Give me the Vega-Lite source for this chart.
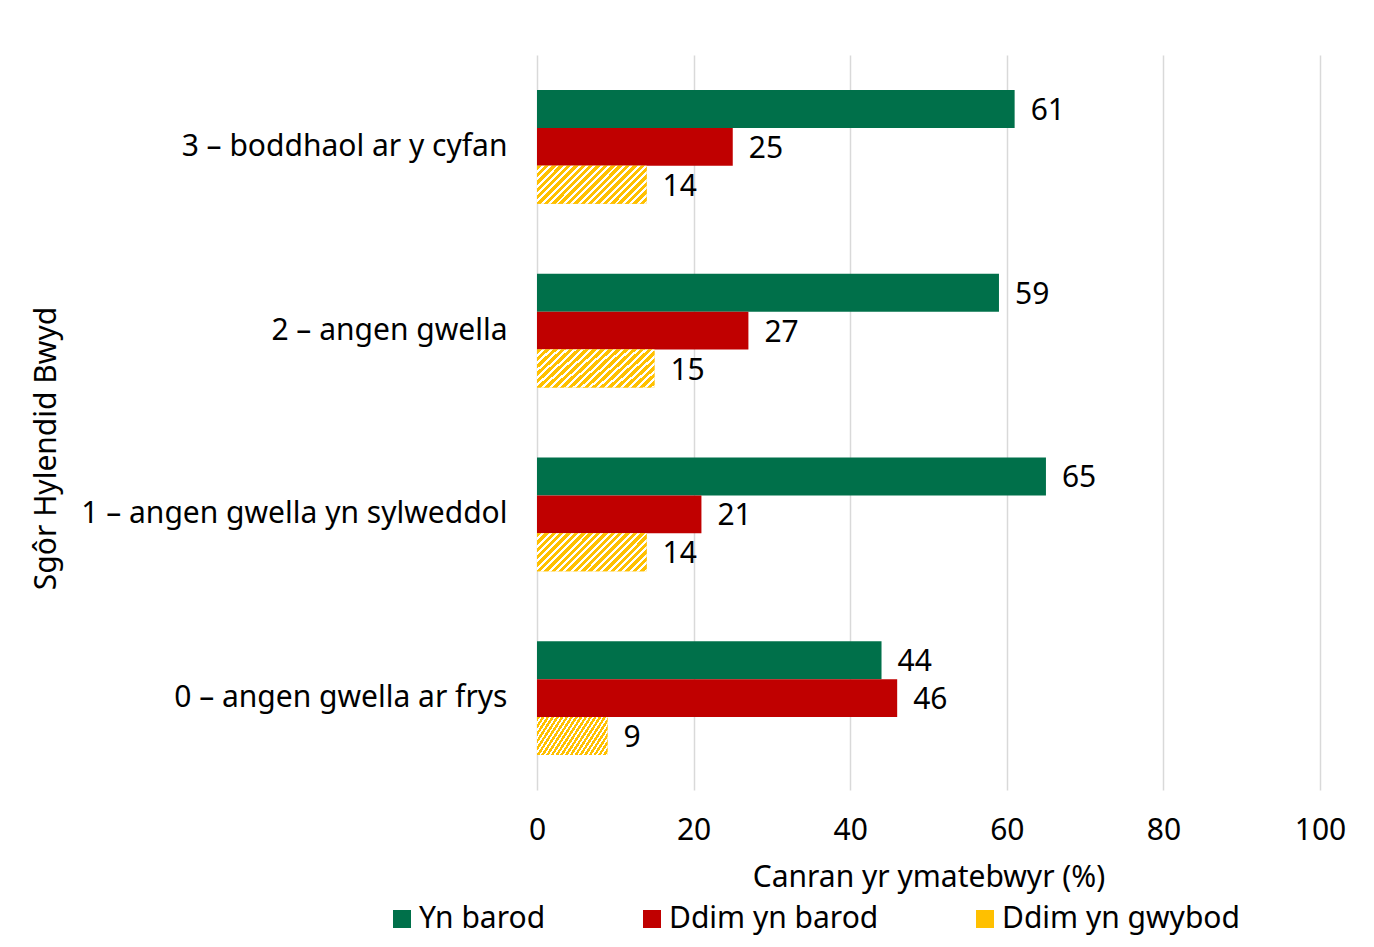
{
  "$schema": "https://vega.github.io/schema/vega-lite/v6.json",
  "width": 783,
  "height": 735,
  "autosize": {"type": "none"},
  "padding": {"left": 537, "top": 55, "right": 54, "bottom": 157},
  "background": "white",
  "config": {
    "font": "Noto Sans",
    "view": {"stroke": null},
    "axis": {"labelColor": "#000000", "titleColor": "#000000", "titleFontWeight": "normal"}
  },
  "data": {
    "values": [
      {"score": "3 – boddhaol ar y cyfan", "series": "Yn barod", "value": 61},
      {"score": "3 – boddhaol ar y cyfan", "series": "Ddim yn barod", "value": 25},
      {"score": "3 – boddhaol ar y cyfan", "series": "Ddim yn gwybod", "value": 14},
      {"score": "2 – angen gwella", "series": "Yn barod", "value": 59},
      {"score": "2 – angen gwella", "series": "Ddim yn barod", "value": 27},
      {"score": "2 – angen gwella", "series": "Ddim yn gwybod", "value": 15},
      {"score": "1 – angen gwella yn sylweddol", "series": "Yn barod", "value": 65},
      {"score": "1 – angen gwella yn sylweddol", "series": "Ddim yn barod", "value": 21},
      {"score": "1 – angen gwella yn sylweddol", "series": "Ddim yn gwybod", "value": 14},
      {"score": "0 – angen gwella ar frys", "series": "Yn barod", "value": 44},
      {"score": "0 – angen gwella ar frys", "series": "Ddim yn barod", "value": 46},
      {"score": "0 – angen gwella ar frys", "series": "Ddim yn gwybod", "value": 9}
    ]
  },
  "encoding": {
    "y": {
      "field": "score",
      "type": "nominal",
      "sort": ["3 – boddhaol ar y cyfan", "2 – angen gwella", "1 – angen gwella yn sylweddol", "0 – angen gwella ar frys"],
      "scale": {"paddingInner": 0.38, "paddingOuter": 0.19},
      "axis": {
        "title": "Sgôr Hylendid Bwyd",
        "labelFontSize": 30,
        "labelPadding": 30,
        "labelLimit": 0,
        "ticks": false,
        "domain": false,
        "titleFontSize": 30,
        "titleAngle": -90,
        "titleX": -491,
        "titleY": 393,
        "titleAlign": "center",
        "titleBaseline": "middle"
      }
    },
    "yOffset": {
      "field": "series",
      "type": "nominal",
      "scale": {"domain": ["Yn barod", "Ddim yn barod", "Ddim yn gwybod"], "paddingInner": 0, "paddingOuter": 0}
    },
    "x": {
      "field": "value",
      "type": "quantitative",
      "scale": {"domain": [0, 100]},
      "axis": {
        "values": [0, 20, 40, 60, 80, 100],
        "grid": true,
        "gridColor": "#d9d9d9",
        "gridWidth": 1.5,
        "domain": false,
        "ticks": false,
        "labelFlush": false,
        "labelFontSize": 30,
        "labelPadding": 25,
        "title": "Canran yr ymatebwyr (%)",
        "titleFontSize": 30,
        "titleY": 87,
        "titleBaseline": "middle"
      }
    }
  },
  "layer": [
    {
      "mark": {"type": "bar"},
      "encoding": {
        "color": {
          "field": "series",
          "type": "nominal",
          "scale": {"domain": ["Yn barod", "Ddim yn barod", "Ddim yn gwybod"], "range": ["#00704A", "#C00000", "#FFC000"]},
          "legend": {
            "orient": "none",
            "legendX": -150,
            "legendY": 849,
            "direction": "horizontal",
            "title": null,
            "labelFontSize": 30,
            "labelColor": "#000000",
            "labelLimit": 0,
            "symbolType": "square",
            "symbolSize": 324,
            "symbolStrokeWidth": 0,
            "labelOffset": 2,
            "columnPadding": 91
          }
        }
      }
    },
    {
      "transform": [{"filter": "datum.series === 'Ddim yn gwybod'"}],
      "mark": {
        "type": "bar",
        "color": {
          "gradient": "linear",
          "x1": 0, "y1": 0, "x2": 1.202, "y2": 0.415,
          "stops": [
            {"offset": 0, "color": "#FFC000"}, {"offset": 0.03, "color": "#FFC000"}, {"offset": 0.03, "color": "#FFFFFF"}, {"offset": 0.05, "color": "#FFFFFF"},
            {"offset": 0.05, "color": "#FFC000"}, {"offset": 0.08, "color": "#FFC000"}, {"offset": 0.08, "color": "#FFFFFF"}, {"offset": 0.1, "color": "#FFFFFF"},
            {"offset": 0.1, "color": "#FFC000"}, {"offset": 0.13, "color": "#FFC000"}, {"offset": 0.13, "color": "#FFFFFF"}, {"offset": 0.15, "color": "#FFFFFF"},
            {"offset": 0.15, "color": "#FFC000"}, {"offset": 0.18, "color": "#FFC000"}, {"offset": 0.18, "color": "#FFFFFF"}, {"offset": 0.2, "color": "#FFFFFF"},
            {"offset": 0.2, "color": "#FFC000"}, {"offset": 0.23, "color": "#FFC000"}, {"offset": 0.23, "color": "#FFFFFF"}, {"offset": 0.25, "color": "#FFFFFF"},
            {"offset": 0.25, "color": "#FFC000"}, {"offset": 0.28, "color": "#FFC000"}, {"offset": 0.28, "color": "#FFFFFF"}, {"offset": 0.3, "color": "#FFFFFF"},
            {"offset": 0.3, "color": "#FFC000"}, {"offset": 0.33, "color": "#FFC000"}, {"offset": 0.33, "color": "#FFFFFF"}, {"offset": 0.35, "color": "#FFFFFF"},
            {"offset": 0.35, "color": "#FFC000"}, {"offset": 0.38, "color": "#FFC000"}, {"offset": 0.38, "color": "#FFFFFF"}, {"offset": 0.4, "color": "#FFFFFF"},
            {"offset": 0.4, "color": "#FFC000"}, {"offset": 0.43, "color": "#FFC000"}, {"offset": 0.43, "color": "#FFFFFF"}, {"offset": 0.45, "color": "#FFFFFF"},
            {"offset": 0.45, "color": "#FFC000"}, {"offset": 0.48, "color": "#FFC000"}, {"offset": 0.48, "color": "#FFFFFF"}, {"offset": 0.5, "color": "#FFFFFF"},
            {"offset": 0.5, "color": "#FFC000"}, {"offset": 0.53, "color": "#FFC000"}, {"offset": 0.53, "color": "#FFFFFF"}, {"offset": 0.55, "color": "#FFFFFF"},
            {"offset": 0.55, "color": "#FFC000"}, {"offset": 0.58, "color": "#FFC000"}, {"offset": 0.58, "color": "#FFFFFF"}, {"offset": 0.6, "color": "#FFFFFF"},
            {"offset": 0.6, "color": "#FFC000"}, {"offset": 0.63, "color": "#FFC000"}, {"offset": 0.63, "color": "#FFFFFF"}, {"offset": 0.65, "color": "#FFFFFF"},
            {"offset": 0.65, "color": "#FFC000"}, {"offset": 0.68, "color": "#FFC000"}, {"offset": 0.68, "color": "#FFFFFF"}, {"offset": 0.7, "color": "#FFFFFF"},
            {"offset": 0.7, "color": "#FFC000"}, {"offset": 0.73, "color": "#FFC000"}, {"offset": 0.73, "color": "#FFFFFF"}, {"offset": 0.75, "color": "#FFFFFF"},
            {"offset": 0.75, "color": "#FFC000"}, {"offset": 0.78, "color": "#FFC000"}, {"offset": 0.78, "color": "#FFFFFF"}, {"offset": 0.8, "color": "#FFFFFF"},
            {"offset": 0.8, "color": "#FFC000"}, {"offset": 0.83, "color": "#FFC000"}, {"offset": 0.83, "color": "#FFFFFF"}, {"offset": 0.85, "color": "#FFFFFF"},
            {"offset": 0.85, "color": "#FFC000"}, {"offset": 0.88, "color": "#FFC000"}, {"offset": 0.88, "color": "#FFFFFF"}, {"offset": 0.9, "color": "#FFFFFF"},
            {"offset": 0.9, "color": "#FFC000"}, {"offset": 0.93, "color": "#FFC000"}, {"offset": 0.93, "color": "#FFFFFF"}, {"offset": 0.95, "color": "#FFFFFF"},
            {"offset": 0.95, "color": "#FFC000"}, {"offset": 0.98, "color": "#FFC000"}, {"offset": 0.98, "color": "#FFFFFF"}, {"offset": 1, "color": "#FFFFFF"}
          ]
        }
      }
    },
    {
      "mark": {"type": "text", "align": "left", "baseline": "middle", "dx": 16, "dy": 2, "fontSize": 30, "color": "#000000"},
      "encoding": {"text": {"field": "value", "type": "quantitative"}}
    }
  ]
}
